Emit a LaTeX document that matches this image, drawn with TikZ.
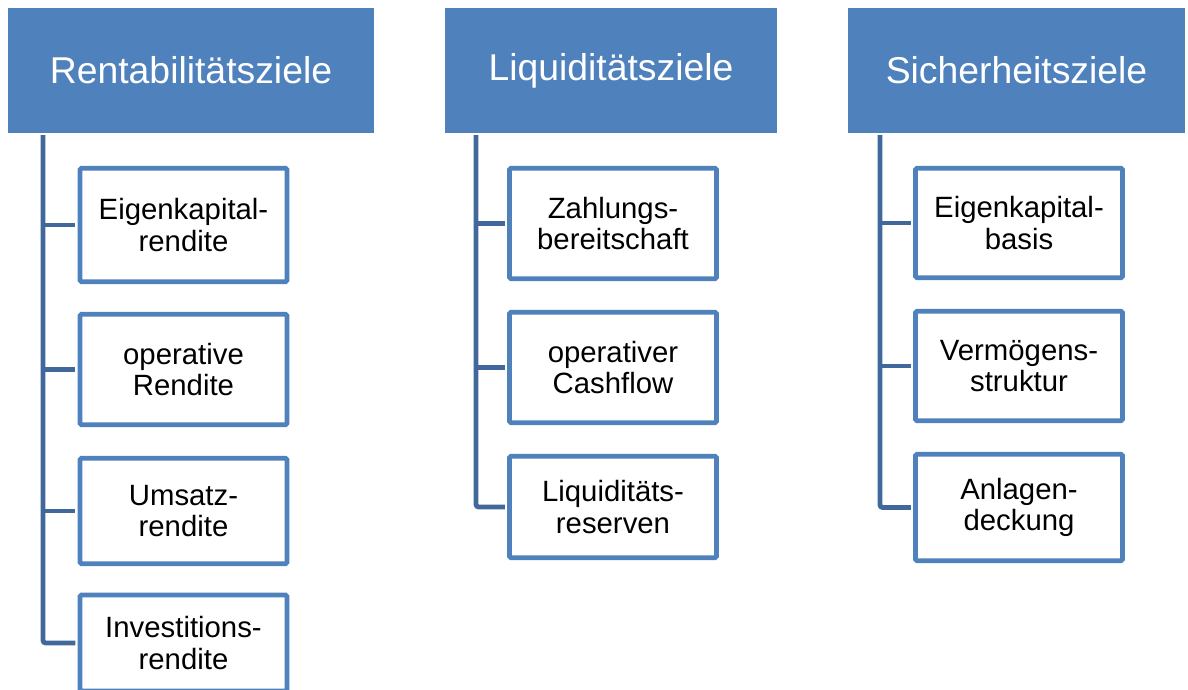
\documentclass[tikz,border=0pt]{standalone}
\usepackage{fontspec}
\setmainfont{Liberation Sans}
\usepackage{xcolor}
\usepackage{tikz}
\definecolor{zielblau}{HTML}{4F81BD}
\definecolor{astblau}{HTML}{41689A}
\begin{document}
\begin{tikzpicture}[x=0.75pt,y=-0.75pt,
		kopf/.style={fill=zielblau,text=white,minimum height=125*\px,inner sep=0pt,
			font=\fontsize{28}{32}\selectfont},
		ziel/.style={draw=zielblau,line width=3.4pt,rounded corners=1pt,fill=white,
			minimum width=207*\px,align=center,inner sep=0pt,
			font=\fontsize{22}{23.5}\selectfont},
		ast/.style={draw=astblau,line width=3.6pt,rounded corners=2pt,shorten >=1.7pt}]
		\def\px{0.75pt}
		\useasboundingbox (0,0) rectangle (1188,689);
		\clip (0,0) rectangle (1188,689);
		\node[kopf,minimum width=366*\px] (rentab) at (191,70.5) {Rentabilitätsziele};
		\node[kopf,minimum width=332*\px] (liquid) at (611,70.5) {Liquiditätsziele};
		\node[kopf,minimum width=337*\px] (sicher) at (1016.5,70.5) {Sicherheitsziele};
		\node[ziel,minimum height=113.5*\px] (r1) at (183.5,225) {Eigenkapital-\\rendite};
		\node[ziel,minimum height=110.5*\px] (r2) at (183.5,369.5) {operative\\Rendite};
		\node[ziel,minimum height=105.5*\px] (r3) at (183.5,511) {Umsatz-\\rendite};
		\node[ziel,minimum height=96*\px] (r4) at (183.5,643) {Investitions-\\rendite};
		\node[ziel,minimum height=110.5*\px] (l1) at (613,223.5) {Zahlungs-\\bereitschaft};
		\node[ziel,minimum height=110.5*\px] (l2) at (613,367.5) {operativer\\Cashflow};
		\node[ziel,minimum height=101.5*\px] (l3) at (613,507) {Liquiditäts-\\reserven};
		\node[ziel,minimum height=109.5*\px] (s1) at (1019,223) {Eigenkapital-\\basis};
		\node[ziel,minimum height=109.5*\px] (s2) at (1019,366) {Vermögens-\\struktur};
		\node[ziel,minimum height=106.5*\px] (s3) at (1019,507.5) {Anlagen-\\deckung};
		\coordinate (ra) at (43,135);
		\coordinate (la) at (476,135);
		\coordinate (sa) at (880,135);
		\draw[ast] (ra) |- (r4);
		\draw[ast] (la) |- (l3);
		\draw[ast] (sa) |- (s3);
		\foreach \z in {r1,r2,r3}
			\draw[ast] (ra |- \z.west) -- (\z);
		\foreach \z in {l1,l2}
			\draw[ast] (la |- \z.west) -- (\z);
		\foreach \z in {s1,s2}
			\draw[ast] (sa |- \z.west) -- (\z);
	\end{tikzpicture}
\end{document}
